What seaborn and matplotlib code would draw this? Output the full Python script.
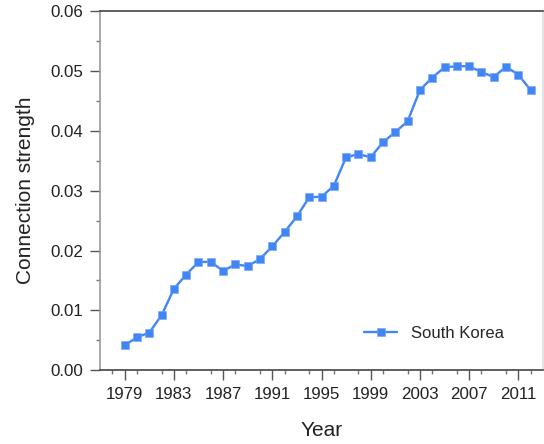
import numpy as np
import pandas as pd
import matplotlib
matplotlib.use("Agg")
import matplotlib.pyplot as plt
import seaborn as sns
from matplotlib.ticker import MultipleLocator

# data
years = list(range(1979, 2013))
strength = [0.0042, 0.0055, 0.0063, 0.0092, 0.0136, 0.0160, 0.0181, 0.0181,
            0.0166, 0.0177, 0.0174, 0.0186, 0.0207, 0.0231, 0.0257, 0.0289,
            0.0290, 0.0308, 0.0356, 0.0361, 0.0356, 0.0381, 0.0398, 0.0416,
            0.0468, 0.0489, 0.0506, 0.0508, 0.0508, 0.0498, 0.0490, 0.0507,
            0.0494, 0.0468]
country = "South Korea"
xtick_years = [1979, 1983, 1987, 1991, 1995, 1999, 2003, 2007, 2011]

df = pd.DataFrame({"Year": years, "Connection strength": strength, "Country": country})

sns.set_style("ticks")
plt.rcParams['font.family'] = ['Liberation Sans', 'DejaVu Sans']

fig = plt.figure(figsize=(5.44, 4.44), dpi=100)
ax = fig.add_axes([0.184, 0.166, 0.814, 0.809])

sns.lineplot(data=df, x="Year", y="Connection strength", hue="Country",
             palette=["#4285F4"], marker="s", markersize=6.3, markeredgewidth=0.4,
             markeredgecolor="#6fa3f7", linewidth=1.7, ax=ax)

ax.set_xlim(1977, 2013)
ax.set_ylim(0, 0.06)
ax.set_xticks(xtick_years)
ax.xaxis.set_minor_locator(MultipleLocator(2))
ax.yaxis.set_major_locator(MultipleLocator(0.01))
ax.yaxis.set_minor_locator(MultipleLocator(0.005))
ax.yaxis.set_major_formatter(matplotlib.ticker.FormatStrFormatter("%.2f"))

ax.tick_params(axis="both", which="major", length=7, width=1, color="#555555",
               labelsize=12.2, labelcolor="#222222", pad=5)
ax.tick_params(axis="both", which="minor", length=3, width=1, color="#777777")

ax.spines["left"].set_color("#999999")
ax.spines["bottom"].set_color("#444444")
ax.spines["top"].set_color("#444444")
ax.spines["right"].set_color("#dddddd")
for s in ax.spines.values():
    s.set_linewidth(1.2)

ax.set_xlabel("Year", fontsize=15, color="#222222", labelpad=14)
ax.set_ylabel("Connection strength", fontsize=15, color="#222222", labelpad=11)

leg = ax.legend(loc="lower right", bbox_to_anchor=(0.945, 0.04), frameon=False,
                fontsize=12, handlelength=2.0, title=None)

fig.savefig("out.png", dpi=100)
